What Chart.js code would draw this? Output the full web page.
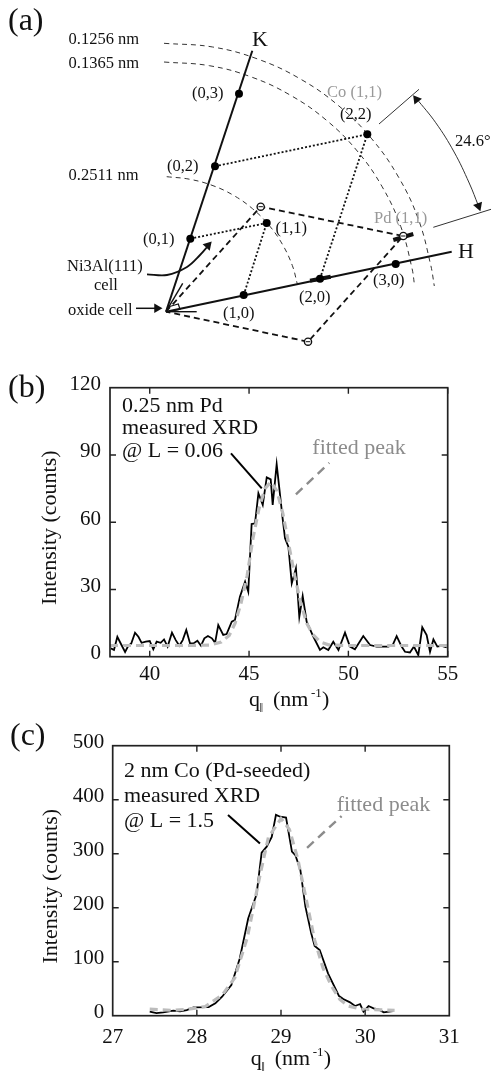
<!DOCTYPE html>
<html><head><meta charset="utf-8">
<style>
html,body{margin:0;padding:0;background:#fff;width:492px;height:1079px;overflow:hidden}
canvas{position:absolute;left:0;filter:blur(0.45px)}
</style>
<script src="https://cdn.jsdelivr.net/npm/chart.js@4"></script>
</head><body>
<canvas id="a" width="492" height="360" style="top:0"></canvas>
<canvas id="b" width="492" height="362" style="top:360px"></canvas>
<canvas id="c" width="492" height="369" style="top:710px"></canvas>
<script>
// ---------- panel (a): hidden-axis diagram ----------
const axisKX=[166,252.3], axisKY=[311.7,50.7];
const axisHX=[166,451.7], axisHY=[311.7,251.7];
const latticeX=[239,215,190.3,243.7,320,395.7,266.7,367.3];
const latticeY=[93.7,166.3,238.7,295,278.7,264,223,134.3];
const openX=[260.7,308,403.3], openY=[206.7,341.7,236];
const arc1X=[164,212.7,257.9,300.4,338.8,371.8,398.7,418.6,430.7,434.3];
const arc1Y=[43.3,47,59.1,79,105.9,138.9,177.4,219.8,265,286];
const arc2X=[164,209.4,251.4,290.9,326.6,357.3,382.2,400.7,412,414.6];
const arc2Y=[62,65.7,77,95.5,120.4,151.1,186.8,226.3,268.3,286];
const arc3X=[166.7,189.4,212,233.3,252.5,269,282.5,292.4,297.2];
const arc3Y=[176.7,179.2,185.3,195.2,208.7,225.2,244.5,265.7,283.5];
const dot1X=[190.3,266.7], dot1Y=[238.7,223];
const dot2X=[243.7,266.7], dot2Y=[295,223];
const dot3X=[215,367.3], dot3Y=[166.3,134.3];
const dot4X=[320,367.3], dot4Y=[278.7,134.3];
const cellX=[166,260.7,403.3,308,166], cellY=[311.7,206.7,236,341.7,311.7];
const barAX=[310,330.7], barAY=[280.7,276.7];
const barBX=[393.3,413.3], barBY=[240,234];
const sideAX=[166,182.7], sideAY=[311.7,283.3];
const sideBX=[166,196.7], sideBY=[311.7,311.7];
const cornerX=[168,178.3,180,172], cornerY=[307,304,309.3,311];
const oxideX=[136,156], oxideY=[308.3,308.3];
const niCurveX=[147,167,187,200,208], niCurveY=[274.3,275,267,255,246];
const wing1X=[379,419], wing1Y=[124,89.3];
const wing2X=[433.3,491], wing2Y=[227.3,209.3];
const spanX=[416,435.8,454.1,469.2,478.5], spanY=[98,122.8,152,183,206];
const headX=[157,208,416.5,478.5], headY=[308.3,245.5,99.5,206];
const headRotation=[90,42,-38,160];

// ---------- panel (b) ----------
const pdQ=[38.05,38.2,38.37,38.54,38.76,38.92,39.07,39.26,39.43,39.59,39.8,40,40.18,40.35,40.55,40.72,40.9,41.12,41.31,41.49,41.66,41.84,42.03,42.2,42.4,42.58,42.75,42.93,43.13,43.29,43.45,43.7,43.87,44.13,44.29,44.54,44.8,44.96,45.13,45.3,45.47,45.69,45.89,46.09,46.19,46.39,46.69,46.81,46.98,47.15,47.36,47.53,47.7,47.9,48.24,48.57,48.74,48.99,49.24,49.5,49.83,50.08,50.33,50.75,51.09,51.42,52.01,52.23,52.43,52.68,52.85,53.1,53.3,53.52,53.72,53.94,54.11,54.28,54.48,54.7,54.95];
const pdCounts=[3.7,3,8.9,5.9,2.1,4.8,5.9,10.7,8.9,6.2,6.7,7,3.3,6.7,6.2,7.7,4.5,10.7,7.4,4.9,7.4,11.9,5.9,5.9,7.1,4.9,8.2,9.2,8.2,6.2,14.1,9.7,10.1,15.6,16.4,26.8,33.5,29,59.2,59.5,72.9,67.7,80,79.1,67.7,85.9,61.7,52.8,49.1,32.7,39.4,17.8,27.1,15.6,8.9,3,4.2,3,6.7,3,10.7,4.5,3.3,9.2,5.2,4.5,4.5,5.2,9.2,4.5,2.2,1.9,4.5,0.7,13.1,9.7,2.2,7.7,4.5,4.8,4.2];
const pdFitQ=[38,40,42,43,43.6,44,44.3,44.6,44.9,45.2,45.5,45.8,46.1,46.4,46.7,47,47.3,47.6,47.9,48.2,48.6,49,50,55];
const pdFit=[5,5,5,5.2,6.5,9.5,15,24,36,53,66,75,78,74,64,50,36,24,15,10,6.5,5.3,5,5];
const pdPointerQ=[44.09,45.64], pdPointerI=[90.7,75.1];
const pdFitPointerQ=[47.36,49.04], pdFitPointerI=[72.4,86.5];
const pdXTicks=[40,45,50,55], pdYTicks=[30,60,90];

// ---------- panel (c) ----------
const coQ=[27.44,27.52,27.6,27.72,27.8,27.88,27.96,28.14,28.22,28.3,28.41,28.51,28.61,28.71,28.77,28.83,28.89,28.94,28.99,29.06,29.13,29.17,29.23,29.29,29.36,29.4,29.46,29.56,29.69,29.74,29.82,29.88,29.94,29.98,30.04,30.1,30.16,30.22,30.33];
const coCounts=[7.4,4.9,6.2,9.3,8,10.5,15.4,16,22.8,35.2,56.8,106,180,225,302,313,331,372,368.5,367,304,297.5,270,202,152,129,121.6,78,36.4,30.9,24.7,17.9,21.6,7.4,17.9,13.6,11.7,6.2,8.6];
const coFitQ=[27.44,27.7,27.9,28.1,28.3,28.45,28.6,28.75,28.85,29,29.1,29.2,29.3,29.4,29.5,29.6,29.7,29.8,29.95,30.35];
const coFit=[12,10,12,17,38,70,145,260,330,365,345,290,215,140,88,55,30,18,12,10];
const coPointerQ=[28.37,28.75], coPointerI=[371.6,319];
const coFitPointerQ=[29.31,29.72], coFitPointerI=[311,369.8];
const coXTicks=[28,29,30], coYTicks=[100,200,300,400];

// ---------- styling & helpers ----------
const SERIF='"Liberation Serif","Times New Roman",serif', INK='#111', GREY='#8c8c8c', LIGHT='#bcbcbc';
const pts=(xs,ys)=>xs.map((x,i)=>({x,y:ys[i]}));
function line(xs,ys,color,width,dash,tension){
  return {data:pts(xs,ys),showLine:true,pointRadius:0,borderColor:color,borderWidth:width,borderDash:dash||[],tension:tension||0,borderCapStyle:'butt'};
}
Chart.defaults.animation=false;
const base={responsive:false,devicePixelRatio:1,animation:false,events:[],
  plugins:{legend:{display:false},tooltip:{enabled:false},title:{display:false}}};
function put(ctx,t,x,y,size,color){ctx.font=size+'px '+SERIF;ctx.fillStyle=color||INK;ctx.textAlign='left';ctx.textBaseline='alphabetic';ctx.fillText(t,x,y);}

// panel (a) labels
const aLabels=[['0.1256 nm',68.5,44,16.5],['0.1365 nm',68.5,68,16.5],['0.2511 nm',68.5,180,16.5],
 ['K',252,45.7,22],['H',458,258,22],['(0,3)',192,97.7,16.5],['(0,2)',167,170.7,16.5],['(0,1)',143,244,16.5],
 ['(1,0)',223,318,16.5],['(2,0)',299,301.7,16.5],['(3,0)',373,285,16.5],['(1,1)',275.5,233.3,16.5],['(2,2)',340,119.3,16.5],
 ['24.6°',455,145.7,16.5],['Ni3Al(111)',67,270.7,16.5],['cell',94,290,16.5],['oxide cell',68,315,16.5],['(a)',8,30,32]];
const aGrey=[['Co (1,1)',327,97.3,16.5],['Pd (1,1)',374,223.3,16.5]];

new Chart(document.getElementById('a'),{type:'scatter',
 data:{datasets:[
  {data:pts(headX,headY),pointStyle:'triangle',pointRadius:5.5,pointRotation:headRotation,pointBackgroundColor:INK,pointBorderColor:INK,pointBorderWidth:0},
  {data:pts(openX,openY),pointStyle:'line',pointRadius:2.2,pointBorderColor:INK,pointBorderWidth:1},
  {data:pts(openX,openY),pointStyle:'circle',pointRadius:3.6,pointBackgroundColor:'#fff',pointBorderColor:INK,pointBorderWidth:1.4},
  {data:pts(latticeX,latticeY),pointStyle:'circle',pointRadius:4,pointBackgroundColor:'#000',pointBorderWidth:0},
  line(barAX,barAY,INK,4),line(barBX,barBY,INK,4),
  line(axisKX,axisKY,INK,2),line(axisHX,axisHY,INK,2),
  line(sideAX,sideAY,INK,1.4),line(sideBX,sideBY,INK,1.4),line(cornerX,cornerY,INK,1.2),
  line(oxideX,oxideY,INK,1.5),line(niCurveX,niCurveY,INK,1.8,[],0.35),
  line(dot1X,dot1Y,INK,1.8,[2,2]),line(dot2X,dot2Y,INK,1.8,[2,2]),line(dot3X,dot3Y,INK,1.8,[2,2]),line(dot4X,dot4Y,INK,1.8,[2,2]),
  line(cellX,cellY,INK,1.8,[6,4]),
  line(arc1X,arc1Y,'#333',1,[5,4],0.4),line(arc2X,arc2Y,'#333',1,[5,4],0.4),line(arc3X,arc3Y,'#333',1,[5,4],0.4),
  line(wing1X,wing1Y,'#333',1),line(wing2X,wing2Y,'#333',1),line(spanX,spanY,'#333',1,[],0.4)
 ]},
 options:{...base,layout:{padding:0,autoPadding:false},
  scales:{x:{type:'linear',display:false,min:0,max:492},y:{type:'linear',display:false,min:0,max:360,reverse:true}}},
 plugins:[{id:'aText',afterDatasetsDraw(c){const g=c.ctx;g.save();
   aLabels.forEach(l=>put(g,l[0],l[1],l[2],l[3]));aGrey.forEach(l=>put(g,l[0],l[1],l[2],l[3],'#999'));g.restore();}}]
});

// shared XY panels
function xyPanel(o){
 return new Chart(document.getElementById(o.id),{type:'scatter',
  data:{datasets:[
   line(o.fitX,o.fitY,LIGHT,3.2,[8,5]),
   line(o.dataX,o.dataY,'#000',1.8),
   line(o.ptrX,o.ptrY,'#000',2),
   line(o.fptrX,o.fptrY,GREY,2.4,[9,6])
  ]},
  options:{...base,layout:{padding:{top:o.top,right:o.right,left:0,bottom:0},autoPadding:false},
   scales:{
    x:{type:'linear',min:o.xmin,max:o.xmax,position:'bottom',
      grid:{display:false,drawTicks:false},border:{display:false},
      afterFit(s){s.height=o.h-o.bottom;},
      ticks:{stepSize:o.xstep,includeBounds:false,autoSkip:false,maxRotation:0,minRotation:0,padding:o.xpad,color:INK,font:{family:SERIF,size:21}}},
    y:{type:'linear',min:0,max:o.ymax,position:'left',
      grid:{display:false,drawTicks:false},border:{display:false},
      afterFit(s){s.width=o.left;},
      title:{display:true,text:'Intensity (counts)  ',color:INK,font:{family:SERIF,size:22},padding:{top:o.titlePad,bottom:0}},
      ticks:{stepSize:o.ystep,autoSkip:false,padding:o.ypad,labelOffset:-3,color:INK,font:{family:SERIF,size:21}}}
   }},
  plugins:[{id:'frame',afterDatasetsDraw(c){
    const g=c.ctx,a=c.chartArea,X=c.scales.x,Y=c.scales.y;g.save();
    g.strokeStyle='#222';g.lineWidth=1.7;g.strokeRect(a.left,a.top,a.right-a.left,a.bottom-a.top);
    g.lineWidth=1.4;g.beginPath();
    o.xt.forEach(v=>{const p=X.getPixelForValue(v);g.moveTo(p,a.bottom);g.lineTo(p,a.bottom-6);g.moveTo(p,a.top);g.lineTo(p,a.top+6);});
    o.yt.forEach(v=>{const p=Y.getPixelForValue(v);g.moveTo(a.left,p);g.lineTo(a.left+6,p);g.moveTo(a.right,p);g.lineTo(a.right-6,p);});
    g.stroke();
    put(g,o.tag,o.tagX,o.tagY,32);
    o.notes.forEach(n=>put(g,n[0],o.noteX,n[1],22));
    put(g,'fitted peak',o.fitTextX,o.fitTextY,22,GREY);
    const bx=o.qX,by=o.qY;
    put(g,'q',bx,by,22);put(g,'‖',bx+10.5,by+6,13);
    put(g,'(nm',bx+24,by,22);put(g,'-1',bx+62,by-9,13);put(g,')',bx+73,by,22);
    g.restore();}}]
 });
}
xyPanel({id:'b',h:362,top:27.7,bottom:296.7,left:110,right:44.3,xmin:38,xmax:55,xstep:5,ymax:120,ystep:30,xpad:5,ypad:9,titlePad:37,
 fitX:pdFitQ,fitY:pdFit,dataX:pdQ,dataY:pdCounts,ptrX:pdPointerQ,ptrY:pdPointerI,fptrX:pdFitPointerQ,fptrY:pdFitPointerI,
 xt:pdXTicks,yt:pdYTicks,tag:'(b)',tagX:8,tagY:36.7,noteX:122,notes:[['0.25 nm Pd',51.7],['measured XRD',74],['@ L = 0.06',96.7]],
 fitTextX:312.3,fitTextY:94,qX:249,qY:346});
xyPanel({id:'c',h:369,top:35.7,bottom:305.7,left:112.7,right:42.7,xmin:27,xmax:31,xstep:1,ymax:500,ystep:100,xpad:9,ypad:8.5,titlePad:38.5,
 fitX:coFitQ,fitY:coFit,dataX:coQ,dataY:coCounts,ptrX:coPointerQ,ptrY:coPointerI,fptrX:coFitPointerQ,fptrY:coFitPointerI,
 xt:coXTicks,yt:coYTicks,tag:'(c)',tagX:10,tagY:35,noteX:124,notes:[['2 nm Co (Pd-seeded)',66.7],['measured XRD',91.7],['@ L = 1.5',116.7]],
 fitTextX:336.7,fitTextY:101,qX:250.7,qY:355});
</script>
</body></html>
